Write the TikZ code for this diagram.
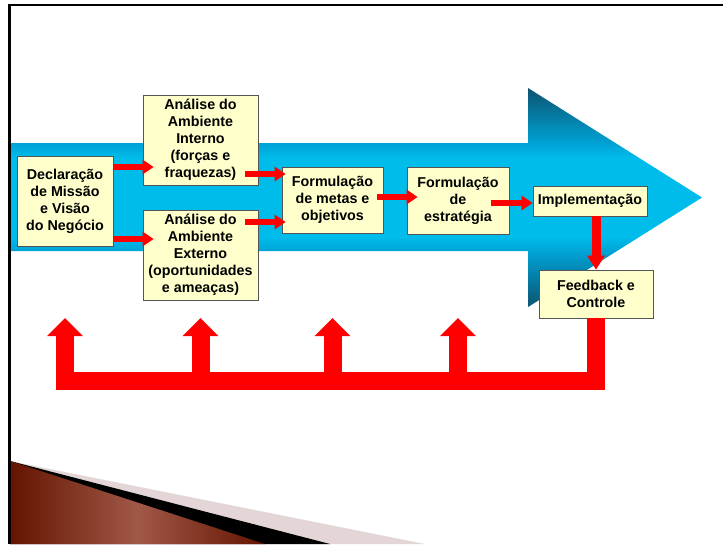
\documentclass[tikz,border=0pt]{standalone}
\usepackage{fontspec}
\setmainfont{Liberation Sans}
\usetikzlibrary{arrows.meta,calc}
\definecolor{boxfill}{RGB}{255,255,204}
\definecolor{boxline}{RGB}{85,85,85}
\definecolor{arrred}{RGB}{255,0,0}
\definecolor{dkteal}{RGB}{12,84,112}
\definecolor{midblue}{RGB}{0,158,208}
\definecolor{cyanb}{RGB}{0,188,234}
\definecolor{brownD}{RGB}{100,20,0}
\definecolor{brownL}{RGB}{160,88,72}
\definecolor{pinkgray}{RGB}{228,214,214}
\pgfdeclareverticalshading{bluearrow}{100bp}{color(0bp)=(dkteal); color(25bp)=(dkteal); color(37bp)=(midblue); color(41bp)=(cyanb); color(59bp)=(cyanb); color(63bp)=(midblue); color(75bp)=(dkteal); color(100bp)=(dkteal)}
\begin{document}
\begin{tikzpicture}[x=1pt,y=-1pt,
  box/.style={draw=boxline, line width=0.9pt, fill=boxfill, inner sep=0pt, align=center,
    font=\fontsize{14.3}{17}\selectfont\bfseries},
  redarr/.style={draw=arrred, line width=6.5pt, -{Triangle[length=11pt,width=15pt,line width=0pt]}},
  vredarr/.style={draw=arrred, line width=9pt, -{Triangle[length=14pt,width=18pt,line width=0pt]}},
  fbarr/.style={draw=arrred, line width=18pt, line join=miter, -{Triangle[length=18pt,width=36pt,line width=0pt]}}
]
\useasboundingbox (0,0) rectangle (723,544);
\fill[white] (0,0) rectangle (723,544);

% big blue arrow
\shade[shading=bluearrow] (11,143) -- (528,143) -- (528,88) -- (702,197.5) -- (528,307) -- (528,251) -- (11,251) -- cycle;

% bottom-left decoration
\fill[pinkgray] (10,461) -- (425,544) -- (10,544) -- cycle;
\fill[black] (10,461) -- (330,544) -- (10,544) -- cycle;
\shade[left color=brownD, right color=brownD, middle color=brownL] (10,461) -- (265,544) -- (10,544) -- cycle;

% boxes
\node[box, minimum width=96pt, minimum height=90pt] (decl) at (65,201) {Declaração\\de Missão\\e Visão\\do Negócio};
\node[box, minimum width=115pt, minimum height=90pt] (interno) at (200.5,140) {Análise do\\Ambiente\\Interno\\(forças e\\fraquezas)};
\node[box, minimum width=115pt, minimum height=90pt] (externo) at (200.5,255) {Análise do\\Ambiente\\Externo\\(oportunidades\\e ameaças)};
\node[box, minimum width=101pt, minimum height=66pt] (metas) at (332.5,200) {Formulação\\de metas e\\objetivos};
\node[box, minimum width=102pt, minimum height=67pt] (estrat) at (458,200.5) {Formulação\\de\\estratégia};
\node[box, minimum width=114pt, minimum height=30pt] (impl) at (590,201) {Implementação};
\node[box, minimum width=114pt, minimum height=48pt] (fb) at (596,294) {Feedback e\\Controle};

% red connectors
\coordinate (s1) at ([yshift=34pt]decl.east);
\coordinate (s2) at ([yshift=-38pt]decl.east);
\coordinate (s3) at ($(interno.east)+(-13,34)$);
\coordinate (s4) at ($(externo.east)+(-13,-33)$);
\coordinate (s5) at ($(metas.east)+(-6,-3)$);
\coordinate (s6) at ($(estrat.east)+(-18,2.5)$);
\draw[redarr] (s1) -- ($(s1 -| interno.west)+(11,0)$);
\draw[redarr] (s2) -- ($(s2 -| externo.west)+(11,0)$);
\draw[redarr] (s3) -- ($(s3 -| metas.west)+(4,0)$);
\draw[redarr] (s4) -- ($(s4 -| metas.west)+(4,0)$);
\draw[redarr] (s5) -- ($(s5 -| estrat.west)+(11,0)$);
\draw[redarr] (s6) -- (s6 -| impl.west);
\draw[vredarr] (impl.south -| fb.north) -- (fb.north);

% feedback loop
\coordinate (barlevel) at (0,381);
\coordinate (tiplevel) at (0,318);
\draw[fbarr] (fb.south) -- (fb.south |- barlevel) -- (decl.south |- barlevel) -- (decl.south |- tiplevel);
\foreach \n in {externo, metas, estrat}
  \draw[fbarr] (\n.south |- barlevel) -- (\n.south |- tiplevel);

% slide border
\draw[line width=2pt] (8,5) -- (723,5);
\draw[line width=3pt] (9.5,4) -- (9.5,544);
\end{tikzpicture}
\end{document}
